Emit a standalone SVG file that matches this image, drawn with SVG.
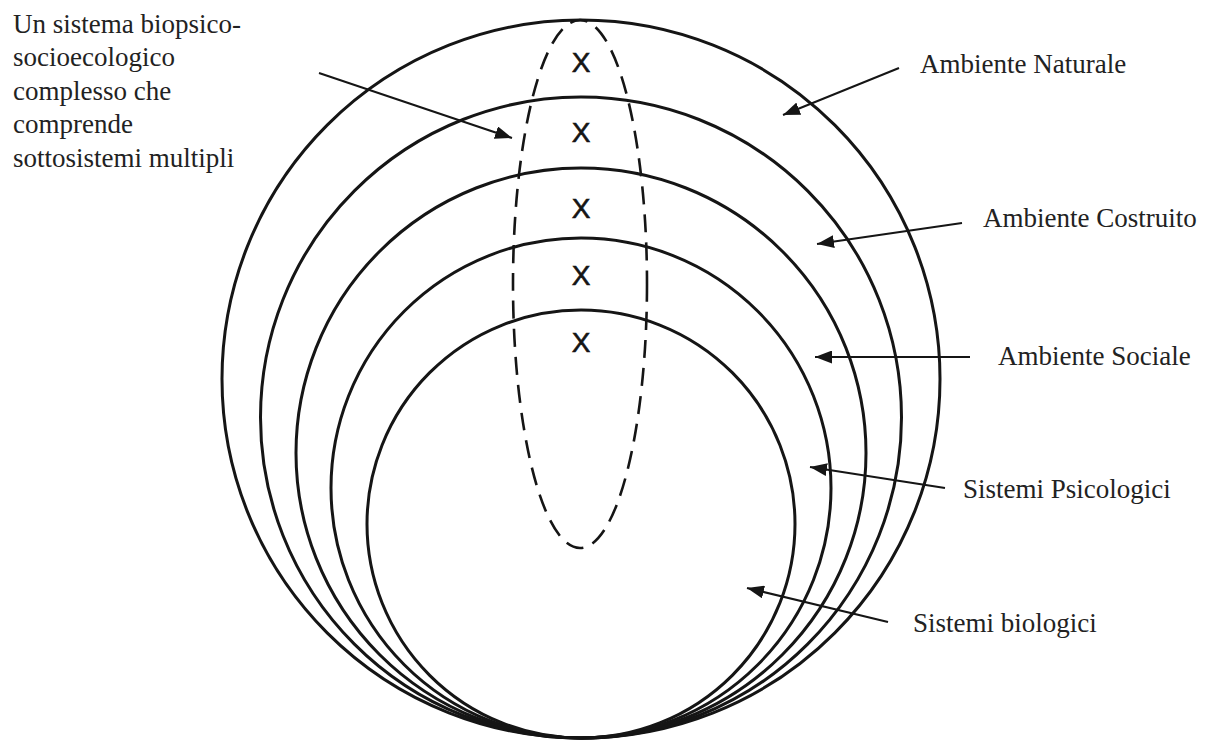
<svg xmlns="http://www.w3.org/2000/svg" width="1213" height="740" viewBox="0 0 1213 740">
<style>
.ring{fill:none;stroke:#151515;stroke-width:3}
.dash{fill:none;stroke:#151515;stroke-width:2.6;stroke-dasharray:18 10}
.arr{fill:none;stroke:#151515;stroke-width:2;marker-end:url(#ah)}
.lbl{font-family:"Liberation Serif","Times New Roman",serif;font-size:27px;fill:#222}
.x{font-family:"Liberation Sans",Arial,sans-serif;font-size:28px;fill:#151515;stroke:#151515;stroke-width:0.6;text-anchor:middle}
</style>
<defs>
<marker id="ah" markerUnits="userSpaceOnUse" markerWidth="18" markerHeight="13" refX="17" refY="6.5" orient="auto">
<path d="M0,0 L17,6.5 L0,13 z" fill="#151515"/>
</marker>
</defs>
<rect width="1213" height="740" fill="#ffffff"/>
<g id="ambiente-naturale"><circle class="ring" cx="581" cy="379" r="359"/></g>
<g id="ambiente-costruito"><circle class="ring" cx="581" cy="417.5" r="320.5"/></g>
<g id="ambiente-sociale"><circle class="ring" cx="581" cy="453" r="285"/></g>
<g id="sistemi-psicologici"><circle class="ring" cx="581" cy="488" r="250"/></g>
<g id="sistemi-biologici"><circle class="ring" cx="581" cy="524" r="214"/></g>
<g id="sistema-complesso">
<ellipse class="dash" cx="580" cy="284" rx="67" ry="264"/>
<text class="x" x="581" y="72">X</text>
<text class="x" x="581" y="142">X</text>
<text class="x" x="581" y="218">X</text>
<text class="x" x="581" y="285">X</text>
<text class="x" x="581" y="352">X</text>
</g>
<g id="labels">
<text class="lbl" x="13" y="33">Un sistema biopsico-</text>
<text class="lbl" x="13" y="66">socioecologico</text>
<text class="lbl" x="13" y="100">complesso che</text>
<text class="lbl" x="13" y="133">comprende</text>
<text class="lbl" x="13" y="167">sottosistemi multipli</text>
<text class="lbl" x="920" y="73">Ambiente Naturale</text>
<text class="lbl" x="983" y="227">Ambiente Costruito</text>
<text class="lbl" x="998" y="365">Ambiente Sociale</text>
<text class="lbl" x="963" y="498">Sistemi Psicologici</text>
<text class="lbl" x="913" y="632">Sistemi biologici</text>
</g>
<g id="connectors">
<line class="arr" x1="319" y1="73" x2="512" y2="138"/>
<line class="arr" x1="899" y1="68" x2="783" y2="115"/>
<line class="arr" x1="962" y1="223" x2="817" y2="244"/>
<line class="arr" x1="970" y1="357" x2="815" y2="357"/>
<line class="arr" x1="945" y1="488" x2="810" y2="467"/>
<line class="arr" x1="888" y1="622" x2="747" y2="588"/>
</g>
</svg>
